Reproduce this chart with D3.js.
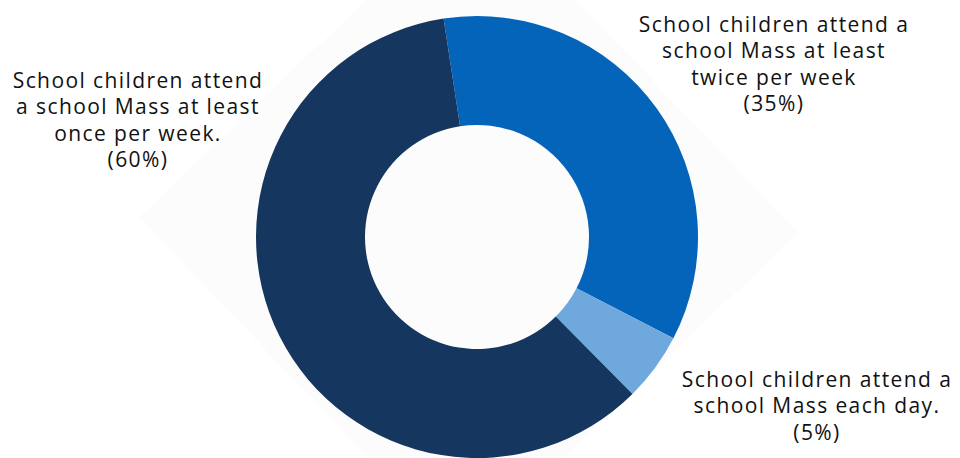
<!DOCTYPE html>
<html>
<head>
<meta charset="utf-8">
<script src="https://cdn.jsdelivr.net/npm/d3@7"></script>
<style>
  html, body { margin: 0; padding: 0; background: #ffffff; }
  svg { display: block; }
  text { font-family: "Open Sans", "Lato", sans-serif; fill: #111; }
</style>
</head>
<body>
<svg id="chart" width="960" height="458"></svg>
<script>
// ---- data ----
const categories = [
  "School children attend a school Mass at least twice per week",
  "School children attend a school Mass each day.",
  "School children attend a school Mass at least once per week."
];
const values = [35, 5, 60];
const colors = ["#0464b9", "#6ea8dc", "#15365e"];
const labelLines = [
  ["School children attend a", "school Mass at least", "twice per week", "(35%)"],
  ["School children attend a", "school Mass each day.", "(5%)"],
  ["School children attend", "a school Mass at least", "once per week.", "(60%)"]
];

// ---- layout ----
const W = 960, H = 458;
const cx = 477, cy = 237, rOuter = 221, rInner = 112;
const startDeg = -8.7;

const svg = d3.select("#chart");

// faint background diamond
svg.append("polygon")
  .attr("points", [[139, 217], [476, -105], [798, 233], [461, 555]].map(p => p.join(",")).join(" "))
  .attr("fill", "#fcfcfc");

const pie = d3.pie().sort(null).value(d => d)
  .startAngle(startDeg * Math.PI / 180)
  .endAngle(startDeg * Math.PI / 180 + 2 * Math.PI);
const arc = d3.arc().innerRadius(rInner).outerRadius(rOuter);

const g = svg.append("g").attr("transform", `translate(${cx},${cy})`);
g.selectAll("path").data(pie(values)).join("path")
  .attr("d", arc)
  .attr("fill", (d, i) => colors[i]);

// labels
const labelPos = [
  { x: 774, y: 32 },
  { x: 817, y: 387 },
  { x: 138, y: 88 }
];
const lineH = 26.3;
labelLines.forEach((lines, i) => {
  const t = svg.append("text")
    .attr("text-anchor", "middle")
    .attr("font-size", 21)
    .attr("letter-spacing", 1.4);
  lines.forEach((ln, j) => {
    t.append("tspan")
      .attr("x", labelPos[i].x)
      .attr("y", labelPos[i].y + j * lineH)
      .text(ln);
  });
});
</script>
</body>
</html>
